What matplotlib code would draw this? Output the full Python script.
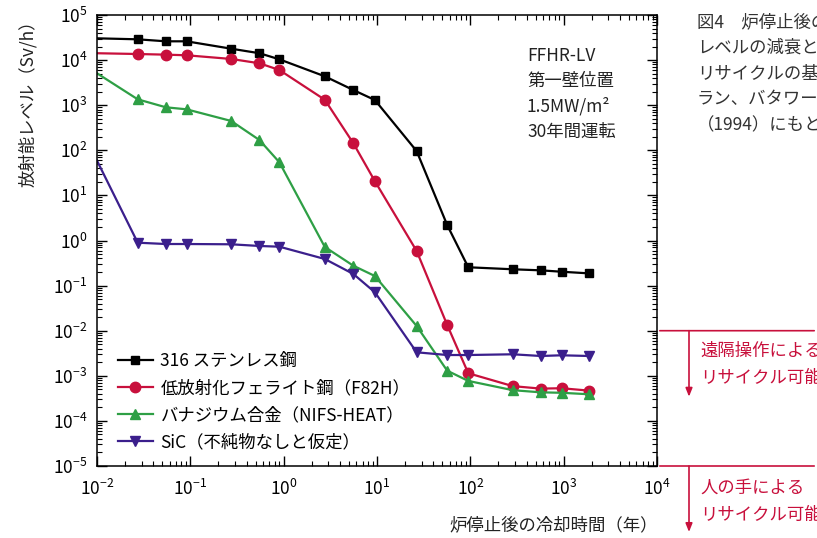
import matplotlib
matplotlib.use("Agg")
import matplotlib.pyplot as plt
import numpy as np
from matplotlib.ticker import LogLocator, NullFormatter

plt.rcParams["font.family"] = ["Noto Sans CJK JP", "DejaVu Sans"]
plt.rcParams["mathtext.default"] = "regular"
plt.rcParams["axes.unicode_minus"] = False

# cooling time after shutdown (years)
years = [0.01, 0.0273, 0.0547, 0.091, 0.274, 0.55, 0.9, 2.76, 5.58, 9.5,
         26.6, 56.5, 95, 285, 568, 950, 1850]

# activity level (Sv/h)
ss316 = [30400, 28900, 26100, 26100, 17900, 14200, 10400, 4370, 2170, 1300,
         96, 2.2, 0.255, 0.23, 0.218, 0.203, 0.187]
f82h = [14200, 13650, 13200, 12800, 10600, 8500, 6030, 1320, 143, 20.6,
        0.585, 0.0134, 0.00114, 5.9e-4, 5.2e-4, 5.3e-4, 4.7e-4]
vanadium = [5100, 1350, 898, 811, 447, 169, 54.2, 0.718, 0.276, 0.163,
            0.0127, 1.30e-3, 7.7e-4, 4.8e-4, 4.3e-4, 4.2e-4, 3.9e-4]
sic = [59, 0.894, 0.836, 0.836, 0.824, 0.756, 0.729, 0.389, 0.181, 0.071,
       3.32e-3, 2.89e-3, 2.89e-3, 3.0e-3, 2.75e-3, 2.85e-3, 2.75e-3]

labels = ["316 ステンレス鋼", "低放射化フェライト鋼（F82H）",
          "バナジウム合金（NIFS-HEAT）", "SiC（不純物なしと仮定）"]

RED = "#c8103c"
series = [
    (ss316, "black", "s", 6),
    (f82h, RED, "o", 7.5),
    (vanadium, "#2e9f45", "^", 7.5),
    (sic, "#3b1f8c", "v", 7.5),
]

fig = plt.figure(figsize=(8.17, 5.38), dpi=100)
ax = fig.add_axes([97 / 817, 72 / 538, 560 / 817, 451 / 538])

for (vals, color, marker, ms), label in zip(series, labels):
    ax.plot(years, vals, color=color, marker=marker, markersize=ms,
            linewidth=1.6, markevery=range(1, len(years)), label=label)

ax.set_xscale("log")
ax.set_yscale("log")
ax.set_xlim(1e-2, 1e4)
ax.set_ylim(1e-5, 1e5)

for axis in (ax.xaxis, ax.yaxis):
    axis.set_major_locator(LogLocator(base=10, numticks=20))
    axis.set_minor_locator(LogLocator(base=10, subs=np.arange(2, 10), numticks=20))
    axis.set_minor_formatter(NullFormatter())

ax.tick_params(which="both", direction="in", top=True, right=True)
ax.tick_params(which="major", length=7, width=1, labelsize=12.5)
ax.tick_params(which="minor", length=3.5, width=0.8)
ax.tick_params(axis="x", which="major", pad=9)
ax.tick_params(axis="y", which="major", pad=7)
for sp in ax.spines.values():
    sp.set_linewidth(1.1)

leg = ax.legend(loc="upper left", bbox_to_anchor=(0.025, 0.268), frameon=False,
                fontsize=12.5, handlelength=2.0, handletextpad=0.45,
                labelspacing=0.52, borderaxespad=0)

# axis labels
fig.text(28 / 817, 1 - 99 / 538, "放射能レベル（Sv/h）", rotation=90,
         ha="center", va="center", fontsize=12.5, color="#222222")
fig.text(658 / 817, 1 - 525 / 538, "炉停止後の冷却時間（年）",
         ha="right", va="center", fontsize=12.5, color="#222222")

# condition text
cond = ["FFHR-LV", "第一壁位置", "1.5MW/m²", "30年間運転"]
for i, t in enumerate(cond):
    fig.text(527 / 817, 1 - (56 + i * 25.3) / 538, t, ha="left", va="center",
             fontsize=12.5, color="#222222")

# caption on the right (cut off by figure edge, as in the source)
caption = ["図4　炉停止後の放射能", "レベルの減衰とリサイクル",
           "リサイクルの基準（ブー", "ラン、バタワースら", "（1994）にもとづく）"]
for i, t in enumerate(caption):
    fig.text(697 / 817, 1 - (22 + i * 25.8) / 538, t, ha="left", va="center",
             fontsize=12.5, color="#333333")

# recycle thresholds
for yv, lines, yt in [(1e-2, ["遠隔操作による", "リサイクル可能"], 351),
                      (1e-5, ["人の手による", "リサイクル可能"], 488)]:
    ax.annotate("", xy=(817 / 817, yv), xycoords=("figure fraction", "data"),
                xytext=(1.0, yv), textcoords=("axes fraction", "data"),
                arrowprops=dict(arrowstyle="-", color=RED, linewidth=1.2),
                annotation_clip=False)
    y0 = ax.transData.transform((1, yv))[1]
    fig_y0 = y0 / fig.bbox.height
    ax.annotate("", xy=(689 / 817, fig_y0 - 66 / 538), xycoords="figure fraction",
                xytext=(689 / 817, fig_y0), textcoords="figure fraction",
                arrowprops=dict(arrowstyle="-|>,head_length=0.5,head_width=0.2",
                                color=RED, linewidth=1.2, shrinkA=0, shrinkB=0))
    for j, t in enumerate(lines):
        fig.text(700 / 817, 1 - (yt + j * 27) / 538, t, ha="left", va="center",
                 fontsize=12.5, color=RED)

fig.savefig("out.png", dpi=100)
